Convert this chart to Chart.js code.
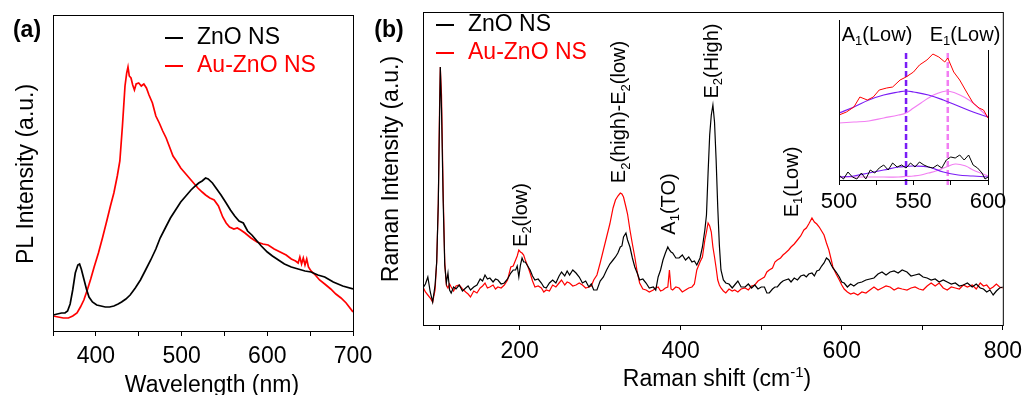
<!DOCTYPE html>
<html>
<head>
<meta charset="utf-8">
<script src="https://cdn.jsdelivr.net/npm/chart.js@4.4.1/dist/chart.umd.min.js"></script>
<style>
  html, body { margin: 0; padding: 0; background: #fff; }
  body { width: 1030px; height: 395px; position: relative; overflow: hidden; }
  canvas { position: absolute; top: 0; }
  #plA { left: 0; }
  #ramanB { left: 360px; }
  #inset { left: 800px; }
</style>
</head>
<body>
<canvas id="plA" width="380" height="395"></canvas>
<canvas id="ramanB" width="670" height="395"></canvas>
<canvas id="inset" width="230" height="220"></canvas>
<script>
// ---- (a) PL spectra ----
const wlZnO = [350,355,360,364,367,370,373,376,379,381,383,386,389,392,396,401,406,411,416,421,426,430,435,440,446,452,458,464,470,475,481,487,493,499,505,511,516,520,524,528,531,536,541,546,552,557,562,567,572,577,582,587,593,600,606,613,620,628,636,644,651,659,667,677,688,700];
const plZnO = [16,17,18,18,20,27,41,58,66,67,62,52,42,34,29,26,25,24,24,25,27,29,32,36,43,51,61,71,82,93,103,113,121,129,135,141,145,148,150,153,152,148,142,136,128,121,115,110,108,100,96,91,85,79,75,71,67,64,62,60,59,56,54,49,45,42];
const wlAu = [350,356,362,368,373,378,382,386,390,394,398,403,408,413,417,421,425,428,431,434,436,437.5,439,441,443,445,447,450,453,456,459,462,466,470,474,478,482,486,490,494,499,504,509,514,519,524,528,533,538,543,548,552,556,561,565,569,574,581,588,595,601,608,615,622,628,633,636,638,640,642,644,646,648,651,655,661,667,674,680,686,692,700];
const plAu = [15,14,13,13,15,18,24,31,41,52,64,78,94,111,125,138,155,170,205,245,258,264,255,253,246,241,247,248,245,247,243,236,228,215,208,200,193,184,175,170,163,158,153,148,143,139,136,133,131,125,114,108,104,102,103,101,98,93,89,87,86,82,79,76,72,70,68,74,67,73,66,72,64,60,57,51,47,42,37,33,28,19];
const wlTicks = [400, 500, 600, 700];

// ---- (b) Raman spectra ----
const ramanShift = [
  80,83,86,89,92,95,97,99,100.5,101.5,
  103,105,107,109,111,113,115,118,121,125,
  129,133,136,139,143,147,151,154,157,160,
  163,167,170,173,177,181,185,189,192,195,
  197,199,201,203,205,207,210,213,216,219,
  223,227,230,233,237,241,245,249,252,256,
  259,262,266,270,274,278,282,286,289,292,
  296,300,304,308,312,316,319,322,325,327,
  329,332,334,337,340,343,346,349,353,357,
  361,366,369,372,375,378,381,384,386,388,
  390,394,398,402,406,410,414,417,420,424,
  427,430,432,434,436,438,440,442,444,446,
  448,450,453,456,460,464,467,471,475,480,
  484,488,492,496,500,504,507,510,514,517,
  520,524,527,530,534,537,541,545,549,553,
  556,559,563,566,569,572,575,578,581,584,
  587,589,593,597,600,603,607,611,615,620,
  625,630,635,640,645,650,655,660,665,670,
  675,681,686,691,696,701,706,711,716,721,
  726,731,736,741,746,751,756,762,767,772,
  776,780,784,788,792,796,800];
const ramanZnO = [
  37,41,48,33,23,40,63,122,205,258,
  215,125,60,42,52,35,32,38,36,40,
  34,37,39,35,38,40,46,44,50,46,
  47,43,46,45,41,42,46,52,55,55,
  59,48,60,67,63,63,59,55,49,45,
  46,42,38,37,42,45,42,49,53,49,
  54,50,55,52,48,42,44,38,41,35,
  35,44,48,55,61,65,68,72,78,79,
  88,92,85,78,67,58,52,45,46,42,
  37,38,35,48,55,65,72,78,75,73,
  72,67,67,70,65,68,63,64,60,67,
  78,95,110,152,190,210,220,203,165,118,
  80,55,45,42,41,37,40,44,38,38,
  41,37,40,36,38,38,32,32,36,38,
  38,42,44,45,46,43,47,45,49,50,
  48,51,52,49,54,55,59,62,67,65,
  60,57,53,48,43,42,38,41,39,42,
  43,45,46,47,51,53,50,53,54,52,
  55,53,49,50,51,48,47,45,46,43,
  45,43,41,42,39,40,42,38,41,37,
  36,33,35,30,34,37,38];
const ramanAuZnO = [
  38,33,30,27,23,35,63,122,215,258,
  230,135,63,40,37,41,38,34,39,40,
  36,33,31,28,34,32,37,39,42,37,
  38,40,36,38,37,40,45,58,59,65,
  69,75,73,72,70,65,59,52,44,38,
  39,37,33,35,34,40,38,42,45,40,
  43,42,39,40,42,40,37,38,39,45,
  50,62,75,88,101,117,125,129,132,131,
  128,118,111,95,81,68,53,42,36,35,
  33,35,37,38,34,35,37,38,55,36,
  35,38,37,33,35,37,38,41,55,63,
  68,85,93,102,99,93,78,68,57,45,
  40,37,34,32,36,34,35,33,36,37,
  35,39,40,44,46,48,53,55,57,63,
  65,67,70,72,75,78,81,85,89,95,
  97,101,107,103,101,98,94,90,82,75,
  65,58,51,45,40,36,33,31,32,30,
  33,32,35,38,35,37,39,38,35,37,
  36,35,37,38,36,35,39,42,39,42,
  37,35,38,37,36,40,38,40,36,42,
  39,40,36,38,41,38,37];
const ramanTicks = [200, 400, 600, 800];

// ---- inset: 500-600 cm-1 with fitted peaks ----
const insetShiftAu = [500,505,510,514,519,523,527,532,536,541,545,550,554,559,563,567,571,573,577,581,586,590,594,597,600];
const insetAuZnO = [65,68,73,83,80,83,90,92,93,100,103,108,115,120,126,123,118,122,108,100,87,77,72,70,62];
const insetShiftZnO = [500,503,506,509,512,515,518,521,524,527,530,533,536,539,542,545,548,551,554,557,560,563,566,569,572,575,578,581,584,587,590,593,596,598,600];
const insetZnO = [5,1,8,3,1,7,1,10,7,12,15,10,17,13,15,12,17,13,18,15,13,12,15,12,20,23,22,25,20,25,15,12,7,1,3];
const fitShiftA1 = [500,510,520,530,540,545,550,560,570,580,590,600];
const fitA1Au = [67,73,80,85,88,89,88,85,80,74,68,63];
const fitA1ZnO = [3,4,7,10,13,13.5,14,13,8,5,4,3];
const fitShiftE1 = [500,510,520,530,540,545,550,555,560,565,572,578,585,590,595,600];
const fitE1Au = [57,58,59,62,65,67,72,77,82,86,89,87,82,77,70,63];
const fitE1ZnO = [3,3,3,3,3,3.5,4,5,7,9,13,16,14,10,7,4];
const modeA1Low = 545;
const modeE1Low = 573;

const FONT = '"Liberation Sans", Arial, Helvetica, sans-serif';
Chart.defaults.font.family = FONT;
Chart.defaults.color = '#000';

const pts = (xs, ys) => xs.map((x, i) => ({ x: x, y: ys[i] }));

// текст с индексами: "E_1(Low)", "cm^{-1}"
function parseRich(s) {
    const out = [];
    let i = 0, buf = '';
    while (i < s.length) {
        const c = s[i];
        if (c === '_' || c === '^') {
            if (buf) { out.push({ t: buf, m: '' }); buf = ''; }
            let t;
            if (s[i + 1] === '{') {
                const j = s.indexOf('}', i);
                t = s.slice(i + 2, j);
                i = j + 1;
            } else {
                t = s[i + 1];
                i += 2;
            }
            out.push({ t: t, m: c === '_' ? 'sub' : 'sup' });
        } else {
            buf += c;
            i++;
        }
    }
    if (buf) out.push({ t: buf, m: '' });
    return out;
}

function drawRich(ctx, str, x, y, size, opt) {
    const o = Object.assign({ color: '#000', rot: 0, align: 'center', weight: 'normal' }, opt || {});
    const parts = parseRich(str);
    const small = Math.round(size * 0.65);
    ctx.save();
    ctx.translate(x, y);
    ctx.rotate(o.rot);
    ctx.fillStyle = o.color;
    ctx.textBaseline = 'middle';
    ctx.textAlign = 'left';
    let w = 0;
    parts.forEach(p => {
        ctx.font = `${o.weight} ${p.m ? small : size}px ${FONT}`;
        p.w = ctx.measureText(p.t).width;
        w += p.w;
    });
    let cx = o.align === 'center' ? -w / 2 : (o.align === 'right' ? -w : 0);
    parts.forEach(p => {
        ctx.font = `${o.weight} ${p.m ? small : size}px ${FONT}`;
        const dy = p.m === 'sub' ? size * 0.32 : (p.m === 'sup' ? -size * 0.33 : 0);
        ctx.fillText(p.t, cx, dy);
        cx += p.w;
    });
    ctx.restore();
}

function legendItem(ctx, x, y, color, text) {
    ctx.save();
    ctx.strokeStyle = color;
    ctx.lineWidth = 2;
    ctx.beginPath();
    ctx.moveTo(x, y);
    ctx.lineTo(x + 18, y);
    ctx.stroke();
    ctx.restore();
    drawRich(ctx, text, x + 32, y, 23, { color: color, align: 'left' });
}

function boxFrame(ctx, a) {
    ctx.save();
    ctx.strokeStyle = '#000';
    ctx.lineWidth = 1;
    ctx.strokeRect(a.left + 0.5, a.top + 0.5, a.right - a.left, a.bottom - a.top);
    ctx.restore();
}

function xAxis(min, max, step, labels, height, size, pad) {
    return {
        type: 'linear', min: min, max: max,
        afterFit: s => { s.height = height; },
        border: { display: false },
        grid: { display: true, drawOnChartArea: false, drawTicks: true, tickLength: 5, color: '#000', lineWidth: 1 },
        ticks: {
            stepSize: step, autoSkip: false, includeBounds: false, maxRotation: 0,
            font: { size: size }, color: '#000', padding: pad,
            callback: v => labels.includes(v) ? String(v) : ''
        }
    };
}

const baseOptions = {
    responsive: false,
    animation: false,
    events: [],
    elements: { point: { radius: 0 }, line: { tension: 0 } },
    plugins: { legend: { display: false }, tooltip: { enabled: false } }
};

// ---- panel (a) ----
new Chart(document.getElementById('plA'), {
    type: 'line',
    data: {
        datasets: [
            { label: 'ZnO NS', data: pts(wlZnO, plZnO), borderColor: '#000', borderWidth: 1.7 },
            { label: 'Au-ZnO NS', data: pts(wlAu, plAu), borderColor: '#ff0000', borderWidth: 1.7 }
        ]
    },
    options: Object.assign({}, baseOptions, {
        layout: { padding: { left: 53, right: 27, top: 15, bottom: 0 } },
        scales: {
            x: xAxis(350, 700, 50, wlTicks, 64, 23, 7),
            y: { display: false, min: 0, max: 316 }
        }
    }),
    plugins: [{
        id: 'decorA',
        afterDraw(chart) {
            const ctx = chart.ctx;
            boxFrame(ctx, chart.chartArea);
            drawRich(ctx, '(a)', 27, 31, 23, { weight: 'bold' });
            drawRich(ctx, 'PL Intensity (a.u.)', 27, 174, 23, { rot: -Math.PI / 2 });
            drawRich(ctx, 'Wavelength (nm)', 212, 386, 23);
            legendItem(ctx, 165, 38, '#000', 'ZnO NS');
            legendItem(ctx, 165, 66, '#ff0000', 'Au-ZnO NS');
        }
    }]
});

// ---- panel (b) ----
const peakLabels = [
    { text: 'E_2(low)', shift: 202, y: 215 },
    { text: 'E_2(high)-E_2(low)', shift: 324.5, y: 112 },
    { text: 'A_1(TO)', shift: 386, y: 204 },
    { text: 'E_2(High)', shift: 439.5, y: 61 },
    { text: 'E_1(Low)', shift: 538.5, y: 182 }
];

new Chart(document.getElementById('ramanB'), {
    type: 'line',
    data: {
        datasets: [
            { label: 'ZnO NS', data: pts(ramanShift, ramanZnO), borderColor: '#000', borderWidth: 1.2 },
            { label: 'Au-ZnO NS', data: pts(ramanShift, ramanAuZnO), borderColor: '#ff0000', borderWidth: 1.2 }
        ]
    },
    options: Object.assign({}, baseOptions, {
        layout: { padding: { left: 63, right: 19, top: 12, bottom: 0 } },
        scales: {
            x: xAxis(80, 800, 100, ramanTicks, 70, 23, 8),
            y: { display: false, min: 0, max: 313 }
        }
    }),
    plugins: [{
        id: 'decorB',
        afterDraw(chart) {
            const ctx = chart.ctx;
            const xs = chart.scales.x;
            boxFrame(ctx, chart.chartArea);
            drawRich(ctx, '(b)', 29, 31, 23, { weight: 'bold' });
            drawRich(ctx, 'Raman Intensity (a.u.)', 32, 169, 23, { rot: -Math.PI / 2 });
            drawRich(ctx, 'Raman shift (cm^{-1})', 357, 380, 23);
            legendItem(ctx, 76, 25, '#000', 'ZnO NS');
            legendItem(ctx, 76, 53, '#ff0000', 'Au-ZnO NS');
            peakLabels.forEach(p => {
                drawRich(ctx, p.text, xs.getPixelForValue(p.shift), p.y, 20, { rot: -Math.PI / 2 });
            });
        }
    }]
});

// ---- inset ----
const violet = '#7a1cf5';
const pink = '#f27ef2';
new Chart(document.getElementById('inset'), {
    type: 'line',
    data: {
        datasets: [
            { data: pts(insetShiftAu, insetAuZnO), borderColor: '#ff0000', borderWidth: 1 },
            { data: pts(insetShiftZnO, insetZnO), borderColor: '#000', borderWidth: 1 },
            { data: pts(fitShiftA1, fitA1Au), borderColor: violet, borderWidth: 1.2, tension: 0.4 },
            { data: pts(fitShiftE1, fitE1Au), borderColor: pink, borderWidth: 1.2, tension: 0.4 },
            { data: pts(fitShiftA1, fitA1ZnO), borderColor: violet, borderWidth: 1.2, tension: 0.4 },
            { data: pts(fitShiftE1, fitE1ZnO), borderColor: pink, borderWidth: 1.2, tension: 0.4 },
            { data: [{ x: modeA1Low, y: -5 }, { x: modeA1Low, y: 130 }], borderColor: violet, borderWidth: 2.5, borderDash: [6, 3], clip: false },
            { data: [{ x: modeE1Low, y: -5 }, { x: modeE1Low, y: 130 }], borderColor: pink, borderWidth: 2.5, borderDash: [6, 3], clip: false }
        ]
    },
    options: Object.assign({}, baseOptions, {
        layout: { padding: { left: 39, right: 42, top: 20, bottom: 0 } },
        scales: {
            x: xAxis(500, 600, 25, [500, 550, 600], 40, 22, 4),
            y: { display: false, min: 0, max: 160 }
        }
    }),
    plugins: [{
        id: 'decorInset',
        afterDraw(chart) {
            const ctx = chart.ctx;
            const a = chart.chartArea;
            ctx.save();
            ctx.strokeStyle = '#000';
            ctx.lineWidth = 1;
            ctx.beginPath();
            ctx.moveTo(a.left + 0.5, a.top);
            ctx.lineTo(a.left + 0.5, a.bottom + 0.5);
            ctx.lineTo(a.right + 0.5, a.bottom + 0.5);
            ctx.lineTo(a.right + 0.5, 50);
            ctx.stroke();
            ctx.restore();
            drawRich(ctx, 'A_1(Low)', 77, 35, 20);
            drawRich(ctx, 'E_1(Low)', 165, 35, 20);
        }
    }]
});
</script>
</body>
</html>
